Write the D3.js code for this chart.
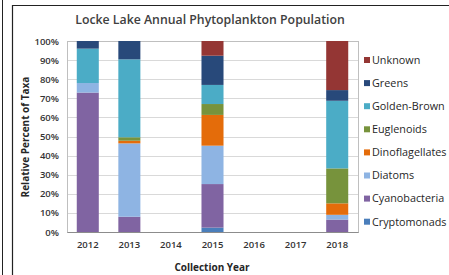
<!DOCTYPE html>
<html>
<head>
<meta charset="utf-8">
<script src="https://cdn.jsdelivr.net/npm/d3@7"></script>
<style>
  body { margin: 0; background: #fff; }
  text { font-family: "Open Sans", "Noto Sans", sans-serif; }
</style>
</head>
<body>
<div class="chart"></div>
<script>
// data (percent of taxa per year)
var years = ["2012", "2013", "2014", "2015", "2016", "2017", "2018"];
var groups = ["Cryptomonads", "Cyanobacteria", "Diatoms", "Dinoflagellates",
  "Euglenoids", "Golden-Brown", "Greens", "Unknown"];

var cryptomonads    = [0, 0, 0, 2.3, 0, 0, 0];
var cyanobacteria   = [73, 8, 0, 22.8, 0, 0, 6.5];
var diatoms         = [5, 38.4, 0, 20.1, 0, 0, 2.5];
var dinoflagellates = [0, 1.4, 0, 16.1, 0, 0, 6];
var euglenoids      = [0, 1.8, 0, 5.7, 0, 0, 18.3];
var goldenBrown     = [18, 40.8, 0, 10, 0, 0, 35.4];
var greens          = [4, 9.6, 0, 15.3, 0, 0, 5.6];
var unknown         = [0, 0, 0, 7.7, 0, 0, 25.7];

var yTicks = [0, 10, 20, 30, 40, 50, 60, 70, 80, 90, 100];

var colors = ["#4a7ebb", "#8064a2", "#8eb4e3", "#e46c0a",
  "#77933c", "#4bacc6", "#28497a", "#943634"];

var svgWidth = 449;
var svgHeight = 275;

var margin = { top: 41, right: 91, bottom: 43, left: 67 };
var width = svgWidth - margin.left - margin.right;
var height = svgHeight - margin.top - margin.bottom;

var svg = d3.select(".chart")
  .append("svg")
  .attr("width", svgWidth)
  .attr("height", svgHeight);

// outer frame lines
svg.append("line").attr("x1", 2.5).attr("x2", 2.5).attr("y1", 0).attr("y2", svgHeight)
  .attr("stroke", "#222").attr("stroke-width", 1);
svg.append("line").attr("x1", 12.5).attr("x2", 12.5).attr("y1", 5).attr("y2", svgHeight)
  .attr("stroke", "#222").attr("stroke-width", 1.2);
svg.append("line").attr("x1", 12).attr("x2", svgWidth).attr("y1", 5.5).attr("y2", 5.5)
  .attr("stroke", "#222").attr("stroke-width", 1.2);

var chartGroup = svg.append("g")
  .attr("transform", `translate(${margin.left}, ${margin.top})`);

// build table for the stack
var table = years.map(function(y, i) {
  return {
    year: y,
    "Cryptomonads": cryptomonads[i],
    "Cyanobacteria": cyanobacteria[i],
    "Diatoms": diatoms[i],
    "Dinoflagellates": dinoflagellates[i],
    "Euglenoids": euglenoids[i],
    "Golden-Brown": goldenBrown[i],
    "Greens": greens[i],
    "Unknown": unknown[i]
  };
});

var stacked = d3.stack().keys(groups)(table);

// scales
var xBandScale = d3.scaleBand()
  .domain(years)
  .range([0, width])
  .paddingInner(0.47)
  .paddingOuter(0.235);

var yLinearScale = d3.scaleLinear()
  .domain([0, 100])
  .range([height, 0]);

var colorScale = d3.scaleOrdinal().domain(groups).range(colors);

// gridlines
chartGroup.append("g")
  .selectAll("line")
  .data(yTicks.slice(1))
  .enter()
  .append("line")
  .attr("x1", 0)
  .attr("x2", width)
  .attr("y1", d => Math.round(yLinearScale(d)) + 0.5)
  .attr("y2", d => Math.round(yLinearScale(d)) + 0.5)
  .attr("stroke", "#d9d9d9");

// plot border
chartGroup.append("rect")
  .attr("x", 0.5)
  .attr("y", 0.5)
  .attr("width", width)
  .attr("height", height)
  .attr("fill", "none")
  .attr("stroke", "#bfbfbf");

// bars
chartGroup.selectAll(".layer")
  .data(stacked)
  .enter()
  .append("g")
  .attr("class", "layer")
  .attr("fill", d => colorScale(d.key))
  .selectAll("rect")
  .data(d => d)
  .enter()
  .append("rect")
  .attr("x", d => xBandScale(d.data.year))
  .attr("y", d => yLinearScale(d[1]))
  .attr("height", d => yLinearScale(d[0]) - yLinearScale(d[1]))
  .attr("width", xBandScale.bandwidth());

// axes
var bottomAxis = d3.axisBottom(xBandScale).tickSize(0).tickPadding(9);
var leftAxis = d3.axisLeft(yLinearScale)
  .tickValues(yTicks)
  .tickSize(0)
  .tickPadding(8)
  .tickFormat(d => d + "%");

var xAxisG = chartGroup.append("g")
  .attr("transform", `translate(0, ${height})`)
  .call(bottomAxis);
xAxisG.select(".domain").attr("stroke", "#8c8c8c").attr("stroke-width", 1.2);
xAxisG.selectAll("text")
  .attr("font-size", "9.5px")
  .attr("font-weight", "600")
  .attr("fill", "#333")
  .attr("font-family", "'Open Sans', sans-serif");

var yAxisG = chartGroup.append("g").call(leftAxis);
yAxisG.select(".domain").remove();
yAxisG.selectAll("text")
  .attr("font-size", "9.5px")
  .attr("font-weight", "600")
  .attr("fill", "#333")
  .attr("font-family", "'Open Sans', sans-serif");

// title
svg.append("text")
  .attr("x", 210)
  .attr("y", 24)
  .attr("text-anchor", "middle")
  .attr("font-size", "12.3px")
  .attr("font-weight", "600")
  .attr("fill", "#404040")
  .text("Locke Lake Annual Phytoplankton Population");

// axis labels
svg.append("text")
  .attr("transform", "rotate(-90)")
  .attr("x", 0 - 137)
  .attr("y", 29)
  .attr("text-anchor", "middle")
  .attr("font-size", "10px")
  .attr("font-weight", "700")
  .attr("fill", "#262626")
  .text("Relative Percent of Taxa");

svg.append("text")
  .attr("x", 212)
  .attr("y", 271)
  .attr("text-anchor", "middle")
  .attr("font-size", "10px")
  .attr("font-weight", "700")
  .attr("fill", "#262626")
  .text("Collection Year");

// legend, top entry is the top of the stack
var legendItems = groups.slice().reverse();
var legend = svg.append("g")
  .selectAll("g")
  .data(legendItems)
  .enter()
  .append("g")
  .attr("transform", (d, i) => `translate(364, ${60 + i * 23.1})`);

legend.append("rect")
  .attr("x", 0)
  .attr("y", -3)
  .attr("width", 6)
  .attr("height", 6)
  .attr("fill", d => colorScale(d));

legend.append("text")
  .attr("x", 8)
  .attr("y", 3.8)
  .attr("font-size", "10.8px")
  .attr("fill", "#1f1f1f")
  .text(d => d);
</script>
</body>
</html>
